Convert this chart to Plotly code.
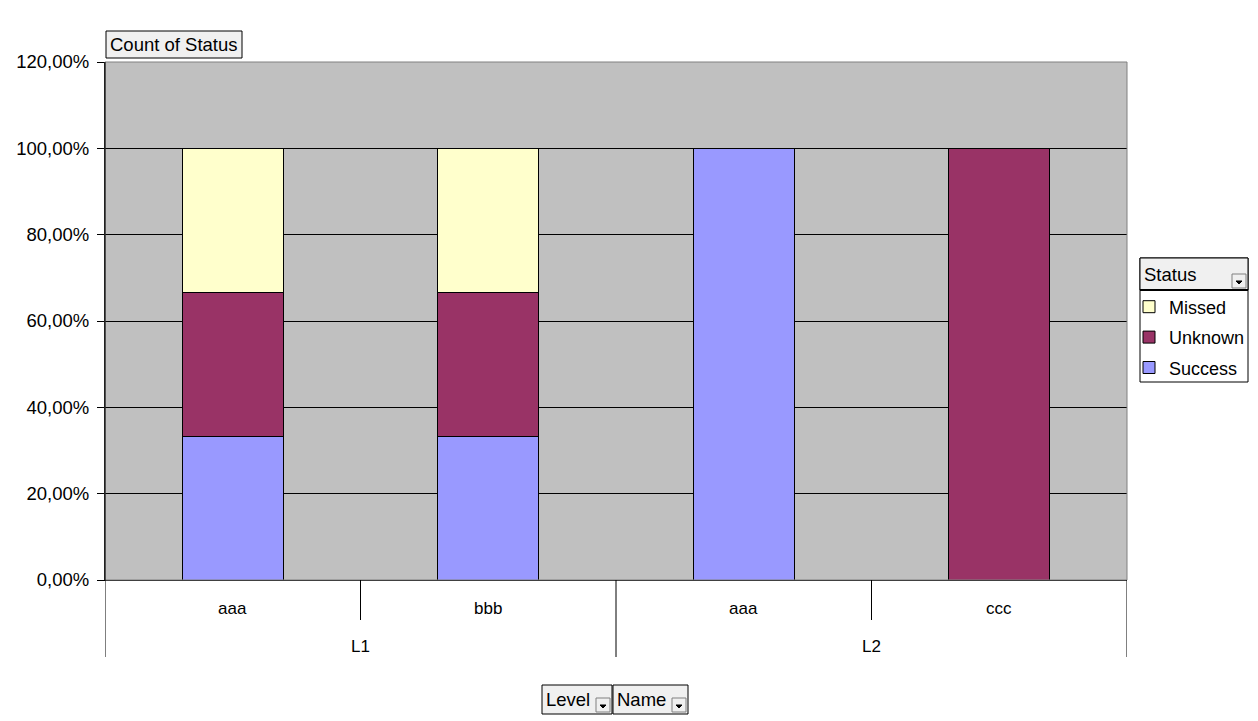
import plotly.graph_objects as go

# ---- data ----
levels = ["L1", "L1", "L2", "L2"]
names = ["aaa", "bbb", "aaa", "ccc"]
success = [1, 1, 1, 0]
unknown = [1, 1, 0, 1]
missed = [1, 1, 0, 0]
y_ticks = [0, 0.2, 0.4, 0.6, 0.8, 1.0, 1.2]

colors = {"Success": "#9999FF", "Unknown": "#993366", "Missed": "#FFFFCC"}
series = [("Success", success), ("Unknown", unknown), ("Missed", missed)]

OFF = 8  # page body margin
W, H = 1258, 721
L, R, T, B = 105, 1127, 62, 580
FONT = "Liberation Sans, Arial, sans-serif"


def px(x):
    return (x - L) / (R - L)


def py(y):
    return (B - y) / (B - T)


cats = [f"{l} {n}" for l, n in zip(levels, names)]

fig = go.Figure()
for i, (name, vals) in enumerate(series):
    fig.add_trace(go.Bar(
        x=cats, y=vals, name=name, legendgroup=name,
        legendrank=len(series) - i,
        marker=dict(color=colors[name], line=dict(color="black", width=1)),
        width=0.395,
    ))

shapes = []
annotations = []

shapes.append(dict(type="rect", xref="paper", yref="paper", x0=0, x1=1, y0=0, y1=1,
                   line=dict(color="#808080", width=1), layer="above"))
shapes.append(dict(type="line", xref="paper", yref="paper", x0=0, x1=0, y0=0, y1=1,
                   line=dict(color="black", width=1), layer="above"))

n = len(cats)
for k in range(n + 1):
    is_group = k == 0 or k == n or levels[k] != levels[k - 1]
    yend = py(657) if is_group else py(620)
    shapes.append(dict(type="line", xref="x", yref="paper", x0=k - 0.5, x1=k - 0.5,
                       y0=0, y1=yend, line=dict(color="black", width=1)))

for c, nm in zip(cats, names):
    annotations.append(dict(x=c, y=py(608), xref="x", yref="paper", text=nm,
                            showarrow=False, yanchor="middle",
                            font=dict(family=FONT, size=17, color="black")))
groups = []
for i, l in enumerate(levels):
    if not groups or groups[-1][0] != l:
        groups.append([l, [i]])
    else:
        groups[-1][1].append(i)
for l, idx in groups:
    annotations.append(dict(x=sum(idx) / len(idx), y=py(646), xref="x", yref="paper",
                            text=l, showarrow=False, yanchor="middle",
                            font=dict(family=FONT, size=17, color="black")))


def button(x0, y0, x1, y1, label, dropdown=True):
    shapes.append(dict(type="rect", xref="paper", yref="paper",
                       x0=px(x0), x1=px(x1), y0=py(y1), y1=py(y0),
                       fillcolor="#F0F0F0", line=dict(color="black", width=1), layer="above"))
    annotations.append(dict(x=px(x0 + 2), y=py((y0 + y1) / 2),
                            xref="paper", yref="paper", text=label, showarrow=False,
                            xanchor="left", yanchor="middle",
                            font=dict(family=FONT, size=18.5, color="black")))
    if dropdown:
        dx1 = x1 - 2
        dx0 = dx1 - 14
        dy1 = y1 - 2
        dy0 = dy1 - 14
        shapes.append(dict(type="rect", xref="paper", yref="paper",
                           x0=px(dx0), x1=px(dx1), y0=py(dy1), y1=py(dy0),
                           fillcolor="#F0F0F0", line=dict(color="#808080", width=1),
                           layer="above"))
        cx = (dx0 + dx1) / 2
        cy = (dy0 + dy1) / 2 + 1
        path = (f"M {px(cx - 3)} {py(cy - 1)} L {px(cx + 3)} {py(cy - 1)} "
                f"L {px(cx)} {py(cy + 2)} Z")
        shapes.append(dict(type="path", xref="paper", yref="paper", path=path,
                           fillcolor="black", line=dict(color="black", width=1),
                           layer="above"))


button(106, 31, 242, 58, "Count of Status", dropdown=False)
button(542, 685, 612, 714, "Level")
button(613, 685, 688, 714, "Name")

shapes.append(dict(type="rect", xref="paper", yref="paper",
                   x0=px(1140), x1=px(1248), y0=py(382), y1=py(258),
                   fillcolor="white", line=dict(color="black", width=1), layer="above"))
button(1140, 258, 1248, 290, "Status")
shapes.append(dict(type="line", xref="paper", yref="paper",
                   x0=px(1140), x1=px(1248), y0=py(290), y1=py(290),
                   line=dict(color="black", width=2), layer="above"))

fig.update_layout(
    width=W - OFF, height=H - OFF,
    barmode="stack", barnorm="fraction",
    separators=", ",
    paper_bgcolor="white", plot_bgcolor="#C0C0C0",
    margin=dict(l=L - OFF, r=W - R, t=T - OFF, b=H - B, autoexpand=False),
    font=dict(family=FONT, size=17, color="black"),
    xaxis=dict(type="category", range=[-0.5, n - 0.5], showticklabels=False,
               ticks="", showgrid=False, showline=True, linecolor="black", linewidth=1,
               zeroline=False, fixedrange=True),
    yaxis=dict(range=[0, 1.2], tickvals=y_ticks, tickformat=".2%",
               showgrid=True, gridcolor="black", gridwidth=1,
               ticks="outside", ticklen=7, tickcolor="black",
               showline=True, linecolor="black", zeroline=False,
               ticklabelstandoff=4,
               tickfont=dict(family=FONT, size=18.5, color="black")),
    legend=dict(x=px(1129), xanchor="left", y=py(288.5), yanchor="top",
                bgcolor="rgba(0,0,0,0)", borderwidth=0,
                traceorder="grouped", tracegroupgap=4,
                font=dict(family=FONT, size=18, color="black")),
    shapes=shapes,
    annotations=annotations,
    showlegend=True,
)

fig.write_html("out.html")
